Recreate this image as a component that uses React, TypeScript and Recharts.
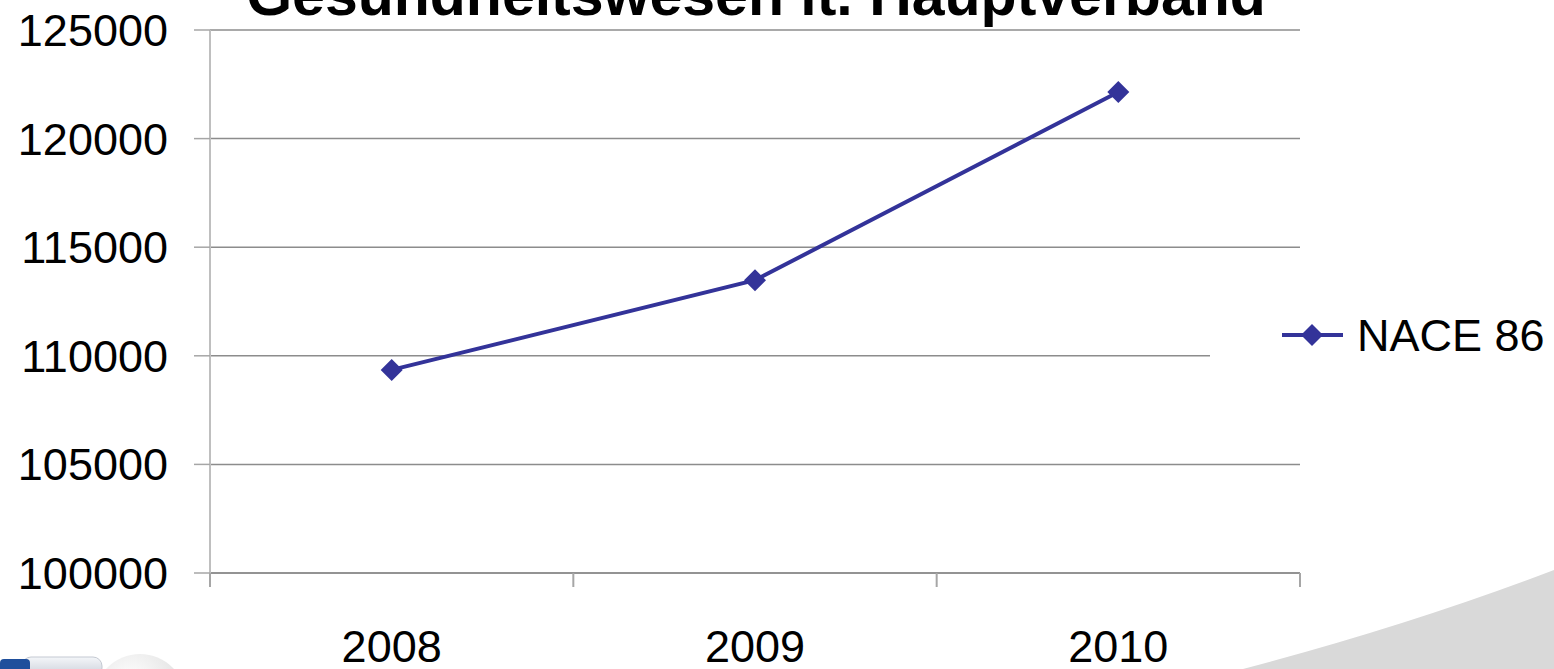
import React from 'react';
import { LineChart, Line, XAxis, YAxis, CartesianGrid } from 'recharts';

const years = ['2008', '2009', '2010'];
const nace86 = [109350, 113480, 122150];
const yTicks = [100000, 105000, 110000, 115000, 120000, 125000];
const seriesName = 'NACE 86';
const title = 'Gesundheitswesen lt. Hauptverband';

const data = years.map((year, i) => ({ year, nace86: nace86[i] }));

const W = 1554;
const H = 669;
const font = 'Arial, "Liberation Sans", sans-serif';
const lineColor = '#333399';
const gridColor = '#8c8c8c';
const plotWidth = 1090;

function Diamond(props: any) {
  const { cx, cy } = props;
  if (cx == null || cy == null) return null;
  const r = 11;
  return (
    <polygon
      points={`${cx},${cy - r} ${cx + r},${cy} ${cx},${cy + r} ${cx - r},${cy}`}
      fill={lineColor}
    />
  );
}

function YearTick(props: any) {
  const { x, y, payload, index, width } = props;
  const half = (width || plotWidth) / years.length / 2;
  const isLast = index === years.length - 1;
  return (
    <g>
      <line x1={x - half} x2={x - half} y1={y} y2={y + 14} stroke="#a6a6a6" strokeWidth={2} />
      {isLast && <line x1={x + half} x2={x + half} y1={y} y2={y + 14} stroke="#a6a6a6" strokeWidth={2} />}
      <text x={x} y={y + 89} textAnchor="middle" fontSize={45} fontFamily={font} fill="#000">
        {payload.value}
      </text>
    </g>
  );
}

// legend sits over the right end of the plot, with a white box that hides the grid line behind it
function SeriesLegend() {
  return (
    <div
      style={{
        position: 'absolute', left: 1210, top: 300, width: 344, height: 70,
        display: 'flex', alignItems: 'center', paddingLeft: 72, boxSizing: 'border-box', background: '#fff',
      }}
    >
      <svg width={61} height={24}>
        <line x1={0} x2={61} y1={12} y2={12} stroke={lineColor} strokeWidth={4} />
        <polygon points="30,1 41,12 30,23 19,12" fill={lineColor} />
      </svg>
      <span style={{ fontSize: 45, marginLeft: 14, fontFamily: font, color: '#000', lineHeight: 1 }}>
        {seriesName}
      </span>
    </div>
  );
}

export default function App() {
  return (
    <div style={{ position: 'absolute', left: 0, top: 0, width: W, height: H, overflow: 'hidden', background: '#fff' }}>
      <svg width={W} height={H} style={{ position: 'absolute', left: 0, top: 0 }}>
        <defs>
          <linearGradient id="logoGray" x1="0" y1="0" x2="0" y2="1">
            <stop offset="0" stopColor="#f4f6f9" />
            <stop offset="1" stopColor="#c9ced8" />
          </linearGradient>
          <radialGradient id="logoBall" cx="0.4" cy="0.3" r="0.7">
            <stop offset="0" stopColor="#ffffff" />
            <stop offset="1" stopColor="#dcdcdc" />
          </radialGradient>
        </defs>
        <path d="M1243,669 Q1410,625 1554,570 L1554,669 Z" fill="#d9d9d9" />
        <circle cx={140} cy={700} r={46} fill="url(#logoBall)" />
        <rect x={22} y={657} width={80} height={20} rx={9} fill="url(#logoGray)" stroke="#c4c9d2" />
        <rect x={0} y={659} width={30} height={14} rx={4} fill="#1f4f9c" />
      </svg>
      <div style={{ position: 'absolute', left: 0, top: 0 }}>
        <LineChart width={W} height={H} data={data} margin={{ top: 30, right: 254, bottom: 0, left: 0 }}>
          <CartesianGrid vertical={false} stroke={gridColor} strokeWidth={1.5} />
          <XAxis
            dataKey="year"
            scale="band"
            height={96}
            interval={0}
            tickLine={false}
            tickSize={0}
            tickMargin={0}
            axisLine={{ stroke: gridColor, strokeWidth: 1.5 }}
            tick={<YearTick />}
          />
          <YAxis
            width={210}
            domain={[100000, 125000]}
            ticks={yTicks}
            interval={0}
            tickSize={16}
            tickMargin={26}
            tick={{ fontSize: 45, fill: '#000', fontFamily: font }}
            tickLine={{ stroke: '#a6a6a6', strokeWidth: 1.5 }}
            axisLine={{ stroke: '#bfbfbf', strokeWidth: 2 }}
          />
          <Line
            type="linear"
            dataKey="nace86"
            name={seriesName}
            stroke={lineColor}
            strokeWidth={4}
            dot={<Diamond />}
            activeDot={false}
            isAnimationActive={false}
          />
        </LineChart>
      </div>
      <SeriesLegend />
      <svg width={W} height={H} style={{ position: 'absolute', left: 0, top: 0, pointerEvents: 'none' }}>
        <text x={756} y={15} textAnchor="middle" fontSize={59} fontWeight="bold" fontFamily={font} fill="#000">
          {title}
        </text>
      </svg>
    </div>
  );
}
